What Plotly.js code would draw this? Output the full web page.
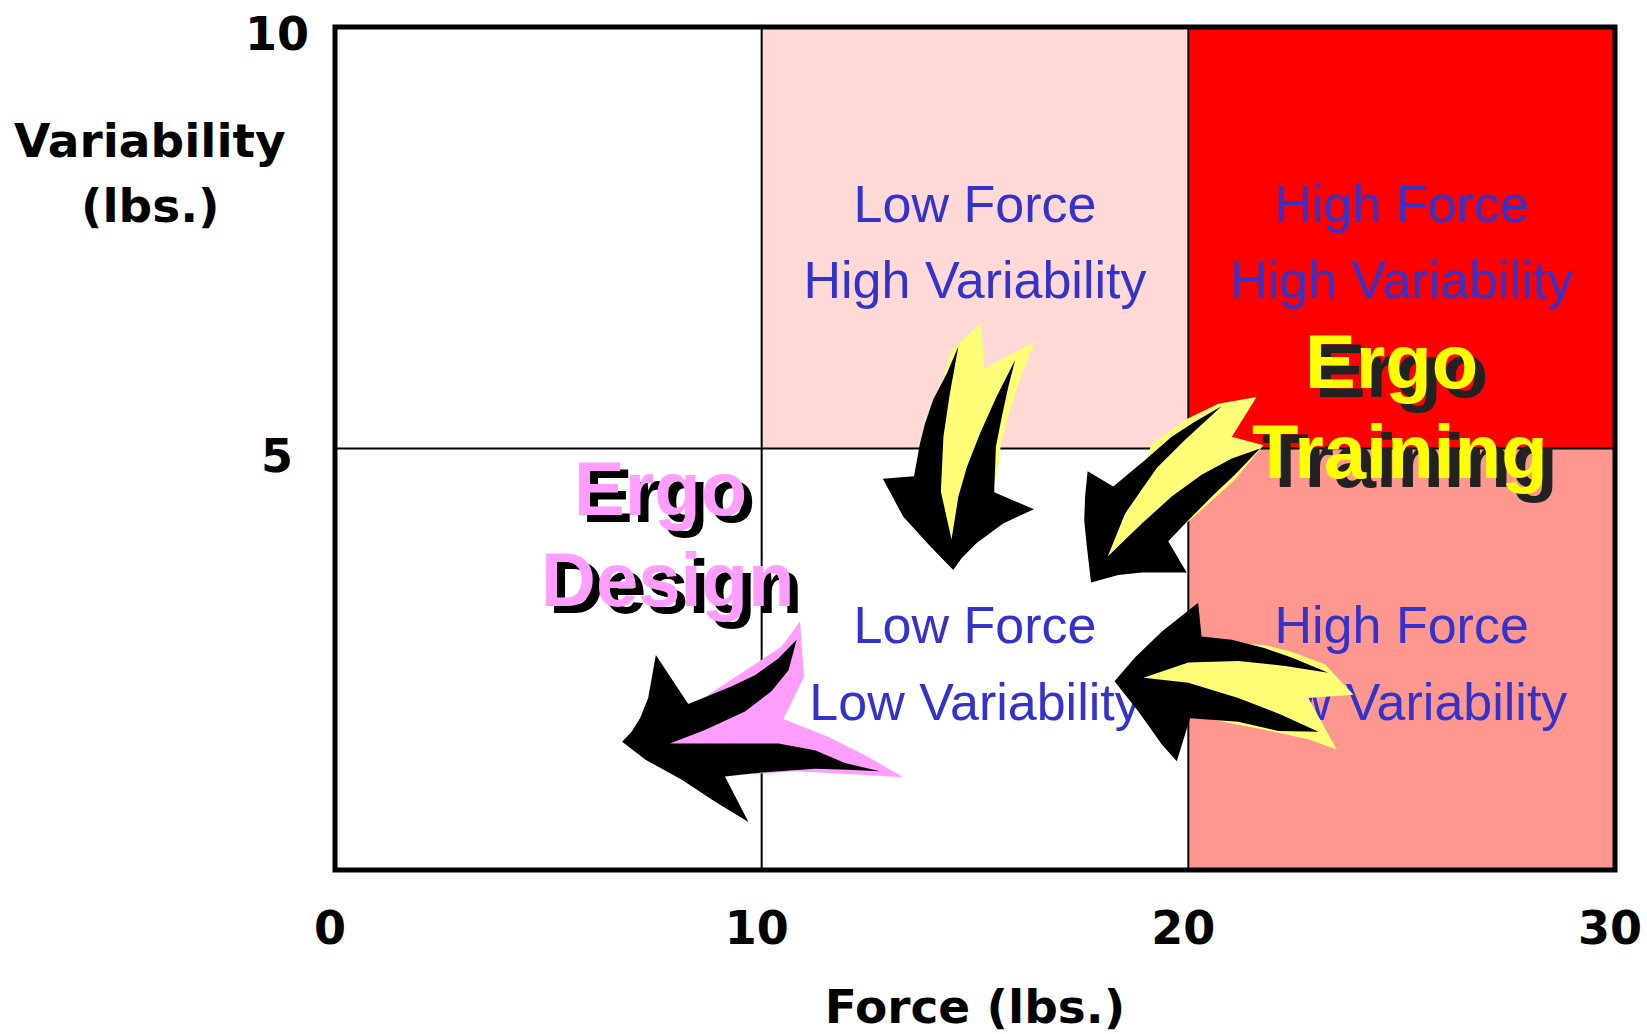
<!DOCTYPE html>
<html>
<head>
<meta charset="utf-8">
<script src="https://cdn.plot.ly/plotly-3.0.1.min.js"></script>
<style>
  html, body { margin: 0; padding: 0; background: #ffffff; }
  #chart { width: 1647px; height: 1034px; }
</style>
</head>
<body>
<div id="chart"></div>
<script>
// Axis ticks
const forceTicks = [0, 10, 20, 30];
const variabilityTicks = [5, 10];
const variabilityTickText = ['5', '10'];

// Force / variability zones (lbs.)
const zoneForceLow  = [0, 10, 20, 0, 10, 20];
const zoneForceHigh = [10, 20, 30, 10, 20, 30];
const zoneVarLow    = [5, 5, 5, 0, 0, 0];
const zoneVarHigh   = [10, 10, 10, 5, 5, 5];
const zoneLine1 = ['', 'Low Force', 'High Force', '', 'Low Force', 'High Force'];
const zoneLine2 = ['', 'High Variability', 'High Variability', '', 'Low Variability', 'Low Variability'];

// Arrow outlines (force, variability): dark body and light glow behind it
const arrowDownBodyX = [14.61,14.34,14.02,13.83,13.71,13.62,13.57,12.84,13.32,13.95,14.49,14.69,15.04,15.66,16.38,15.45,15.49,15.63,15.78,15.94,15.51,15.12,14.81,14.61,14.45,14.20,14.26,14.41];
const arrowDownBodyY = [6.21,5.89,5.58,5.30,5.06,4.78,4.67,4.64,4.19,3.84,3.56,3.70,3.88,4.11,4.28,4.48,5.02,5.38,5.73,6.05,5.62,5.18,4.78,4.43,3.92,4.49,5.14,5.65];
const arrowDownGlowX = [14.45,15.14,15.22,16.39,16.09,15.82,15.61,15.51,14.45,13.71,13.83,13.98,14.22];
const arrowDownGlowY = [6.17,6.49,5.95,6.26,5.87,5.46,5.06,4.67,3.92,4.98,5.34,5.54,5.79];

const arrowDiagBodyX = [20.78,20.16,19.61,18.98,18.24,17.64,17.58,17.56,17.62,17.72,18.36,18.91,19.96,19.53,20.00,20.63,21.09,21.68,21.02,20.31,19.61,18.91,18.11,18.52,19.26,19.92];
const arrowDiagBodyY = [5.50,5.32,5.14,4.86,4.55,4.73,4.43,4.15,3.84,3.41,3.50,3.53,3.53,3.90,4.15,4.47,4.69,5.00,4.88,4.69,4.43,4.11,3.72,4.23,4.77,5.10];
const arrowDiagGlowX = [19.14,20.00,20.70,21.60,21.02,21.76,21.09,20.47,20.00,18.11,18.36,18.75];
const arrowDiagGlowY = [5.06,5.36,5.53,5.61,5.14,5.04,4.63,4.35,4.13,3.72,4.03,4.43];

const arrowLeftBodyX = [20.23,19.38,18.75,18.27,18.83,19.38,19.73,19.96,20.04,21.17,22.11,23.05,22.19,21.17,20.00,18.95,20.00,21.17,22.27,23.28,22.42,21.80,21.02,20.31];
const arrowLeftBodyY = [3.17,2.83,2.52,2.24,1.88,1.49,1.29,1.67,1.80,1.76,1.65,1.64,1.84,2.04,2.22,2.28,2.46,2.48,2.42,2.34,2.52,2.63,2.73,2.77];
const arrowLeftGlowX = [20.39,21.80,22.42,23.20,23.87,22.81,23.48,22.81,21.72,20.39,18.95,20.00];
const arrowLeftGlowY = [2.71,2.67,2.59,2.44,2.08,2.04,1.43,1.55,1.67,1.80,2.28,2.48];

const arrowDesignBodyX = [7.52,7.34,7.15,6.95,6.73,7.27,8.13,8.91,9.69,9.14,10.08,11.25,12.03,12.77,11.95,11.25,10.39,7.85,8.67,9.61,10.23,10.63,10.82,10.39,9.84,9.30,8.28];
const arrowDesignBodyY = [2.55,2.04,1.80,1.64,1.52,1.31,1.07,0.81,0.57,1.11,1.16,1.20,1.19,1.17,1.27,1.42,1.50,1.50,1.66,1.88,2.12,2.37,2.73,2.51,2.31,2.18,1.97];
const arrowDesignGlowX = [8.75,9.92,10.47,10.90,10.99,10.51,11.56,12.50,13.32,12.03,10.78,9.84,7.85];
const arrowDesignGlowY = [2.08,2.47,2.65,2.95,2.29,1.79,1.58,1.34,1.10,1.14,1.17,1.14,1.50];

// Styling
const zoneColors = ['#ffffff', '#ffd9d6', '#ff0000', '#ffffff', '#ffffff', '#ff978f'];
const labelBlue = '#3333cc';
const glowYellow = '#ffff77';
const glowPink = '#ff9eff';
const boldFace = 'DejaVu Sans, Verdana, sans-serif';
const plainFace = 'Liberation Sans, Arial, sans-serif';
const frontZones = [4];   // labels that sit over the arrows

function polygon(xs, ys, color) {
  return {
    type: 'scatter', mode: 'lines', x: xs, y: ys,
    fill: 'toself', fillcolor: color,
    line: { width: 0, color: color },
    hoverinfo: 'skip', showlegend: false
  };
}

function zoneLabels(indices) {
  const xs = [], ys = [], ts = [];
  indices.forEach(i => {
    if (!zoneLine1[i]) return;
    const xc = (zoneForceLow[i] + zoneForceHigh[i]) / 2;
    const yc = (zoneVarLow[i] + zoneVarHigh[i]) / 2 - 0.11;
    xs.push(xc, xc); ys.push(yc + 0.455, yc - 0.455); ts.push(zoneLine1[i], zoneLine2[i]);
  });
  return {
    type: 'scatter', mode: 'text', x: xs, y: ys, text: ts,
    textposition: 'middle center',
    textfont: { family: plainFace, size: 52, color: labelBlue },
    cliponaxis: false, hoverinfo: 'skip', showlegend: false
  };
}

const allZones = zoneLine1.map((_, i) => i);
const backZones = allZones.filter(i => !frontZones.includes(i));

const traces = [
  zoneLabels(backZones),
  polygon(arrowDownGlowX, arrowDownGlowY, glowYellow),
  polygon(arrowDownBodyX, arrowDownBodyY, '#000000'),
  polygon(arrowDiagGlowX, arrowDiagGlowY, glowYellow),
  polygon(arrowDiagBodyX, arrowDiagBodyY, '#000000'),
  polygon(arrowDesignGlowX, arrowDesignGlowY, glowPink),
  polygon(arrowDesignBodyX, arrowDesignBodyY, '#000000'),
  zoneLabels(frontZones),
  polygon(arrowLeftGlowX, arrowLeftGlowY, glowYellow),
  polygon(arrowLeftBodyX, arrowLeftBodyY, '#000000')
];

// Zone fills, dividing lines and frame
const shapes = [];
allZones.forEach(i => {
  shapes.push({
    type: 'rect', xref: 'x', yref: 'y', layer: 'below',
    x0: zoneForceLow[i], x1: zoneForceHigh[i], y0: zoneVarLow[i], y1: zoneVarHigh[i],
    fillcolor: zoneColors[i], line: { width: 0 }
  });
});
forceTicks.slice(1, -1).forEach(f => {
  shapes.push({ type: 'line', xref: 'x', yref: 'y', layer: 'below',
    x0: f, x1: f, y0: 0, y1: 10, line: { color: '#000000', width: 2 } });
});
shapes.push({ type: 'line', xref: 'x', yref: 'y', layer: 'below',
  x0: 0, x1: 30, y0: 5, y1: 5, line: { color: '#000000', width: 2 } });
shapes.push({ type: 'rect', xref: 'paper', yref: 'paper', layer: 'above',
  x0: 0, x1: 1, y0: 0, y1: 1, line: { color: '#000000', width: 5 }, fillcolor: 'rgba(0,0,0,0)' });

// Text annotations
const annotations = [];
variabilityTicks.forEach((v, k) => {
  annotations.push({
    xref: 'paper', yref: 'y', x: -0.045, y: v, yshift: -7,
    text: variabilityTickText[k], showarrow: false, xanchor: 'center', yanchor: 'middle',
    font: { family: boldFace, size: 46, weight: 700, color: '#000000' }
  });
});
annotations.push({
  xref: 'paper', yref: 'paper', x: -0.1445, y: 0.8648, text: 'Variability',
  showarrow: false, xanchor: 'center', yanchor: 'middle',
  font: { family: boldFace, size: 47, weight: 700, color: '#000000' }
});
annotations.push({
  xref: 'paper', yref: 'paper', x: -0.1445, y: 0.7877, text: '(lbs.)',
  showarrow: false, xanchor: 'center', yanchor: 'middle',
  font: { family: boldFace, size: 47, weight: 700, color: '#000000' }
});

function shadowText(text, x, y, face, shade, dx, dy) {
  const f = { family: plainFace, size: 76, weight: 700 };
  annotations.push({ xref: 'x', yref: 'y', x: x, y: y, xshift: dx, yshift: -dy, text: text,
    showarrow: false, xanchor: 'center', yanchor: 'middle', font: Object.assign({}, f, { color: shade }) });
  annotations.push({ xref: 'x', yref: 'y', x: x, y: y, text: text,
    showarrow: false, xanchor: 'center', yanchor: 'middle', font: Object.assign({}, f, { color: face }) });
}
shadowText('Ergo', 24.75, 6.03, '#ffff00', '#222222', 10, 9);
shadowText('Training', 24.96, 4.96, '#ffff00', '#222222', 10, 9);
shadowText('Ergo', 7.62, 4.52, glowPink, '#000000', 8, 7);
shadowText('Design', 7.80, 3.45, glowPink, '#000000', 8, 7);

const layout = {
  width: 1647, height: 1034,
  margin: { l: 335, r: 32, t: 27, b: 164 },
  paper_bgcolor: '#ffffff', plot_bgcolor: '#ffffff',
  showlegend: false,
  xaxis: {
    range: [0, 30], tickvals: forceTicks, ticktext: forceTicks.map(String),
    showgrid: false, zeroline: false, showline: false,
    ticks: 'outside', ticklen: 18, tickcolor: 'rgba(0,0,0,0)',
    ticklabeloverflow: 'allow', ticklabelshift: -5,
    tickfont: { family: boldFace, size: 46, weight: 700, color: '#000000' },
    title: { text: 'Force (lbs.)', standoff: 36,
      font: { family: boldFace, size: 47, weight: 700, color: '#000000' } },
    fixedrange: true
  },
  yaxis: {
    range: [0, 10], showticklabels: false, showgrid: false, zeroline: false, showline: false,
    ticks: '', fixedrange: true
  },
  shapes: shapes,
  annotations: annotations
};

Plotly.newPlot('chart', traces, layout, { staticPlot: true, displayModeBar: false });
</script>
</body>
</html>
